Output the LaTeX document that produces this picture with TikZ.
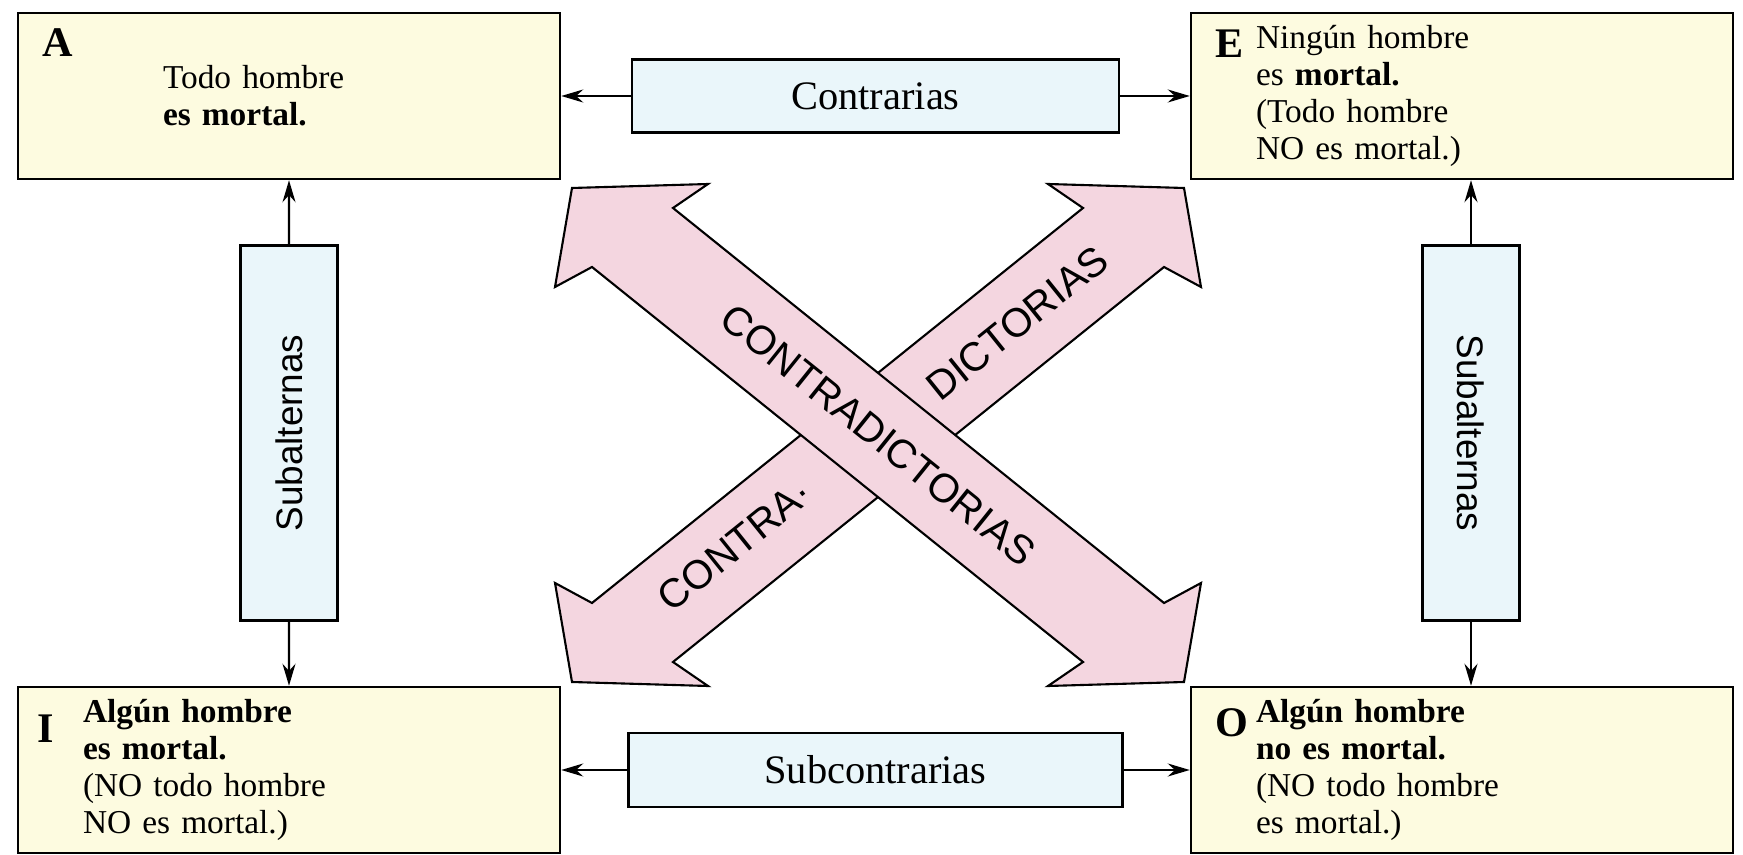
\documentclass[tikz,border=0pt]{standalone}
\usepackage{fontspec}
\setmainfont{Liberation Serif}
\newfontfamily\mysans{Liberation Sans}
\usepackage{xcolor}
\usepackage{tikz}
\usetikzlibrary{positioning,calc}
\usetikzlibrary{arrows.meta,shapes}
\definecolor{amarillo}{RGB}{253,251,224}
\definecolor{celeste}{RGB}{234,246,250}
\definecolor{rosa}{RGB}{244,214,224}
\pgfkeys{tikz/myprop/.style={draw,line width=0.7pt,fill=amarillo,minimum height=1.66cm,inner xsep=0.65cm,text width=4.12cm,align=left,font=\fontsize{9.5}{10.6}\selectfont}}
\pgfkeys{tikz/myrel/.style={draw,line width=0.7pt,fill=celeste,font=\fontsize{11.5}{13}\selectfont}}
\pgfkeys{tikz/myletter/.style={anchor=north west,inner sep=0pt,font=\fontsize{12}{14}\selectfont\bfseries}}
\pgfkeys{tikz/mybig/.style={inner sep=0pt,font=\mysans\fontsize{11.5}{13}\selectfont}}

\begin{document}
\begin{tikzpicture}[node distance = 11.73cm, >={Stealth[length=2.2mm,width=1.3mm]}]
  \useasboundingbox (0,0) rectangle (17.43,-8.55);
  % the four propositions
  \node[myprop,inner xsep=1.45cm,text width=2.52cm] (nA) at (2.89,-0.96) {Todo hombre\\ \textbf{es mortal.}};
  \node[myprop,right of=nA] (nE) {Ningún hombre\\ es \textbf{mortal.}\\ (Todo hombre\\ NO es mortal.)};
  \node[myprop,below of=nA,node distance=6.74cm] (nI) {\textbf{Algún hombre}\\ \textbf{es mortal.}\\ (NO todo hombre\\ NO es mortal.)};
  \node[myprop,right of=nI] (nO) {\textbf{Algún hombre}\\ \textbf{no es mortal.}\\ (NO todo hombre\\ es mortal.)};

  \node[myletter,below right=0.16cm and 0.25cm of nA.north west] (lA) {A};
  \node[myletter,below right=0.17cm and 0.25cm of nE.north west] (lE) {E};
  \node[myletter,below right=0.28cm and 0.2cm of nI.north west] (lI) {I};
  \node[myletter,below right=0.22cm and 0.25cm of nO.north west] (lO) {O};

  % relations
  \node[myrel,minimum width=4.87cm,minimum height=0.73cm] (nC) at ($(nA.east)!0.5!(nE.west)$) {Contrarias};
  \node[myrel,minimum width=4.94cm,minimum height=0.74cm] (nS) at ($(nI.east)!0.5!(nO.west)$) {Subcontrarias};
  \node[myrel,minimum width=0.97cm,minimum height=3.75cm,font=\mysans\fontsize{10.5}{12}\selectfont] (nL) at ($(nA.south)!0.5!(nI.north)$) {\rotatebox{90}{Subalternas}};
  \node[myrel,minimum width=0.97cm,minimum height=3.75cm,font=\mysans\fontsize{10.5}{12}\selectfont,xshift=0.09cm] (nR) at ($(nE.south)!0.5!(nO.north)$) {\rotatebox{-90}{Subalternas}};

  \draw[->,semithick] (nC.west) -- (nC.west -| nA.east);
  \draw[->,semithick] (nC.east) -- (nC.east -| nE.west);
  \draw[->,semithick] (nS.west) -- (nS.west -| nI.east);
  \draw[->,semithick] (nS.east) -- (nS.east -| nO.west);
  \draw[->,semithick] (nL) -- (nA);
  \draw[->,semithick] (nL) -- (nI);
  \draw[->,semithick] (nR.north) -- (nR.north |- nE.south);
  \draw[->,semithick] (nR.south) -- (nR.south |- nO.north);

  % contradictorias
  \begin{scope}[shift={(8.78,-4.35)},xscale=-1]
    \draw[fill=rosa,line width=0.6pt] (-3.06,2.47) -- (-1.70,2.51) -- (-2.05,2.27) -- (2.86,-1.68) -- (3.23,-1.48) -- (3.06,-2.47) -- (1.70,-2.51) -- (2.05,-2.27) -- (-2.86,1.68) -- (-3.23,1.48) -- cycle;
  \end{scope}
  \begin{scope}[shift={(8.78,-4.35)}]
    \draw[fill=rosa,line width=0.6pt] (-3.06,2.47) -- (-1.70,2.51) -- (-2.05,2.27) -- (2.86,-1.68) -- (3.23,-1.48) -- (3.06,-2.47) -- (1.70,-2.51) -- (2.05,-2.27) -- (-2.86,1.68) -- (-3.23,1.48) -- cycle;
  \end{scope}
  \node[mybig,rotate=-38.8] (tX) at (8.78,-4.35) {CONTRADICTORIAS};
  \node[mybig,rotate=38.8] (tC) at (7.35,-5.45) {CONTRA·};
  \node[mybig,rotate=38.8] (tD) at (10.17,-3.23) {DICTORIAS};
\end{tikzpicture}
\end{document}
